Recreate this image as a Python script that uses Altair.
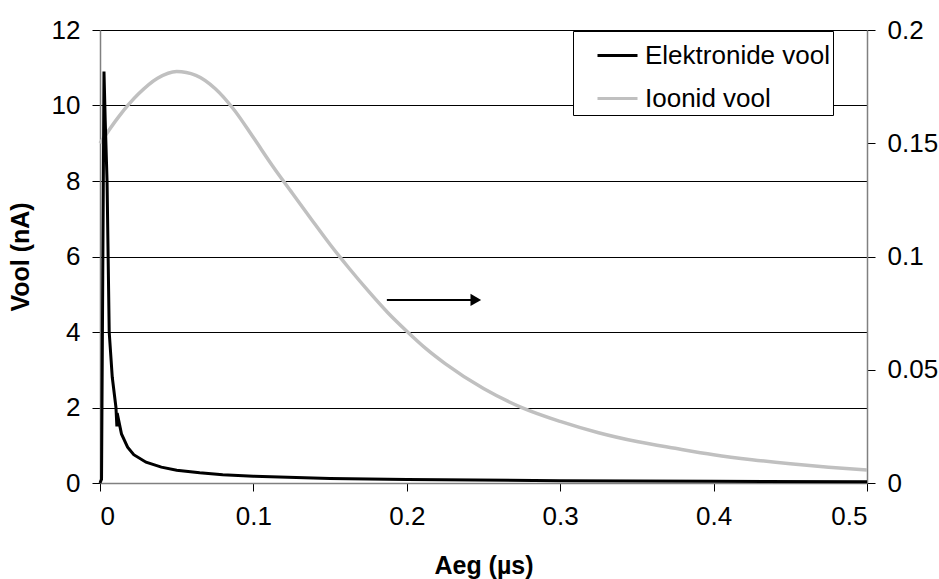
import altair as alt
import pandas as pd

FONT = "Liberation Sans"

# Electron current (nA), left axis
e_time = [0.0, 0.001, 0.0018, 0.0026, 0.0034, 0.0046, 0.006, 0.008, 0.0104,
          0.0110, 0.0112, 0.014, 0.018, 0.022, 0.03, 0.04, 0.05, 0.065,
          0.08, 0.1, 0.15, 0.2, 0.3, 0.4, 0.5]
e_curr = [0.0, 0.1, 5.5, 10.9, 9.6, 8.0, 4.0, 2.8, 2.0,
          1.5, 1.85, 1.3, 0.95, 0.75, 0.55, 0.42, 0.34, 0.27,
          0.22, 0.18, 0.12, 0.09, 0.06, 0.045, 0.035]

# Ion current, right axis
i_time = [0.0, 0.0125, 0.025, 0.0375, 0.05, 0.0625, 0.075, 0.0875, 0.1,
          0.1125, 0.125, 0.1375, 0.15, 0.1625, 0.175, 0.1875, 0.2, 0.2125,
          0.225, 0.25, 0.275, 0.3, 0.325, 0.35, 0.375, 0.4, 0.425, 0.45,
          0.475, 0.5]
i_curr = [0.1500, 0.1620, 0.1717, 0.1787, 0.1817, 0.1800, 0.1742, 0.1647,
          0.1525, 0.1400, 0.1283, 0.1167, 0.1053, 0.0947, 0.0847, 0.0753,
          0.0670, 0.0593, 0.0527, 0.0417, 0.0333, 0.0272, 0.0222, 0.0183,
          0.0153, 0.0125, 0.0103, 0.0085, 0.0070, 0.0057]

# Arrow pointing towards the right-hand axis
arrow_x = [0.187]
arrow_x2 = [0.245]
arrow_y = [4.85]

series = ["Elektronide vool", "Ioonid vool"]
colors = ["#000000", "#c0c0c0"]

e_df = pd.DataFrame({"t": e_time, "v": e_curr, "s": series[0]})
i_df = pd.DataFrame({"t": i_time, "v": i_curr, "s": series[1]})
a_df = pd.DataFrame({"x": arrow_x, "x2": arrow_x2, "y": arrow_y})

tick_style = dict(ticks=True, tickSize=8, tickColor="#000000", tickWidth=1,
                  tickOpacity=1)

x_enc = alt.X("t:Q", title="Aeg (µs)",
              scale=alt.Scale(domain=[0, 0.5], nice=False, zero=False),
              axis=alt.Axis(values=[0, 0.1, 0.2, 0.3, 0.4, 0.5], format="~g",
                            grid=False, labelPadding=12, titlePadding=24,
                            **tick_style))

color_enc = alt.Color("s:N", title=None,
                      scale=alt.Scale(domain=series, range=colors),
                      legend=alt.Legend(orient="none", legendX=473, legendY=1,
                                        symbolType="stroke", symbolSize=1600,
                                        symbolStrokeWidth=3, labelOffset=6,
                                        symbolOffset=20, padding=3,
                                        rowPadding=8, labelLimit=0,
                                        fillColor="white", strokeColor="black",
                                        labelFontSize=26, labelFont=FONT,
                                        labelColor="black"))

electron = alt.Chart(e_df).mark_line(strokeWidth=3).encode(
    x=x_enc,
    y=alt.Y("v:Q", title="Vool (nA)",
            scale=alt.Scale(domain=[0, 12], nice=False),
            axis=alt.Axis(values=[0, 2, 4, 6, 8, 10, 12], grid=True,
                          gridColor="black", gridWidth=1, gridOpacity=1,
                          labelPadding=12, titlePadding=18, **tick_style)),
    color=color_enc,
)

shaft = alt.Chart(a_df).mark_rule(color="black", strokeWidth=2).encode(
    x="x:Q", x2="x2:Q", y="y:Q")
head = alt.Chart(a_df).mark_point(shape="triangle-right", filled=True,
                                  color="black", size=150, opacity=1).encode(
    x="x2:Q", y="y:Q")

left = alt.layer(electron, shaft, head)

ion = alt.Chart(i_df).mark_line(strokeWidth=3.5, interpolate="monotone").encode(
    x="t:Q",
    y=alt.Y("v:Q", title=None,
            scale=alt.Scale(domain=[0, 0.2], nice=False),
            axis=alt.Axis(orient="right", values=[0, 0.05, 0.1, 0.15, 0.2],
                          format="~g", grid=False, labelPadding=12,
                          **tick_style)),
    color=alt.Color("s:N", scale=alt.Scale(domain=series, range=colors)),
)

chart = alt.layer(ion, left).resolve_scale(y="independent").properties(
    width=767, height=453,
    autosize=alt.AutoSizeParams(type="none"),
    padding={"left": 100, "top": 30, "right": 72, "bottom": 96},
    background="white",
).configure_view(stroke=None).configure_axis(
    labelFont=FONT, labelFontSize=26, labelColor="black",
    titleFont=FONT, titleFontSize=25, titleFontWeight="bold",
    titleColor="black", domainColor="#808080", domainWidth=1.5,
)

chart.save("out.html", embed_options={"renderer": "svg", "actions": False})
